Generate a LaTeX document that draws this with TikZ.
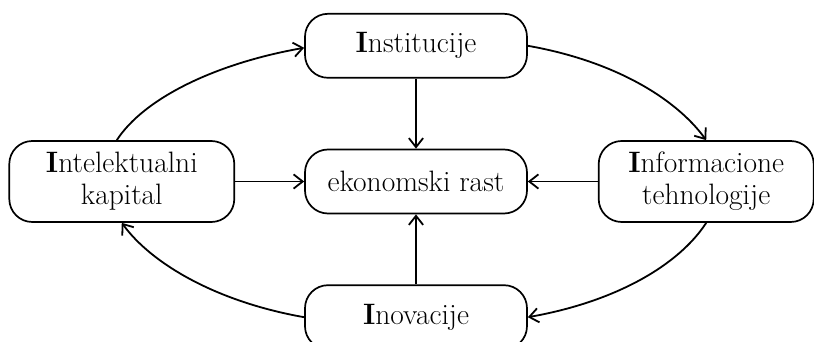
\documentclass[tikz,border=0pt]{standalone}
\usepackage{fontspec}
\usepackage{tikz}
\usetikzlibrary{arrows.meta,positioning}

\begin{document}
\begin{tikzpicture}[
  x=1pt, y=1pt,
  box/.style={draw, line width=1.7pt, rounded corners=23pt, align=center,
    font=\fontsize{29.5}{32}\selectfont, minimum height=64pt, minimum width=222pt, inner sep=2pt},
  ar/.style={line width=1.8pt, -{Straight Barb[length=3.2mm,width=5mm]}},
  node distance=70pt
]
\clip (-416,-160.5) rectangle (398,181.5);
\node[box] (ekon) {ekonomski rast};
\node[box, above=of ekon] (inst) {\textbf{I}nstitucije};
\node[box, below=of ekon] (inov) {\textbf{I}novacije};
\node[box, left=69pt of ekon, minimum width=225pt, minimum height=81pt] (intel) {\textbf{I}ntelektualni\\kapital};
\node[box, right=of ekon, minimum width=215pt, minimum height=81pt] (inform) {\textbf{I}nformacione\\tehnologije};

\draw[ar] (inst) -- (ekon);
\draw[ar] (intel) -- (ekon);
\draw[ar] (inform) -- (ekon);
\draw[ar] (inov) -- (ekon);
% outer ring
\draw[ar] ([xshift=-5pt]intel.north) to[out=57,in=190,out distance=50pt,in distance=90pt] ([yshift=-2pt]inst.west);
\draw[ar] (inst.east) to[out=-10,in=126,out distance=90pt,in distance=50pt] (inform.north);
\draw[ar] (inform.south) to[out=-123,in=10,out distance=50pt,in distance=90pt] (inov.east);
\draw[ar] (inov.west) to[out=170,in=-54,out distance=90pt,in distance=50pt] (intel.south);
\end{tikzpicture}
\end{document}
